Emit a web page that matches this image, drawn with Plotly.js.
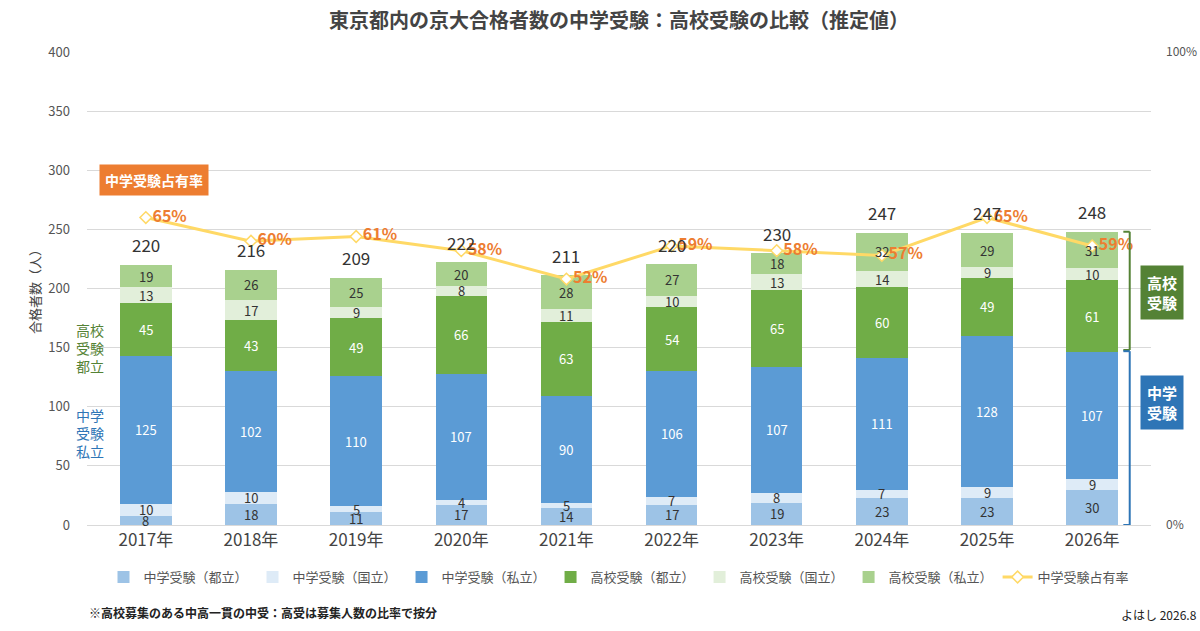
<!DOCTYPE html>
<html><head><meta charset="utf-8">
<script src="https://cdn.plot.ly/plotly-3.0.1.min.js"></script>
<style>body{margin:0;background:#fff}</style>
</head><body>
<div id="chart" style="width:1200px;height:631px"></div>
<script>
const years = ['2017年','2018年','2019年','2020年','2021年','2022年','2023年','2024年','2025年','2026年'];
const juTo = [8,18,11,17,14,17,19,23,23,30];
const juKoku = [10,10,5,4,5,7,8,7,9,9];
const juShi = [125,102,110,107,90,106,107,111,128,107];
const koTo = [45,43,49,66,63,54,65,60,49,61];
const koKoku = [13,17,9,8,11,10,13,14,9,10];
const koShi = [19,26,25,20,28,27,18,32,29,31];
const totals = [220,216,209,222,211,220,230,247,247,248];
const share = [0.65,0.60,0.61,0.58,0.52,0.59,0.58,0.57,0.65,0.59];

const font = 'Noto Sans CJK JP, Noto Sans, sans-serif';

const series = [
  ['中学受験（都立）', juTo, '#9dc3e6', '#333'],
  ['中学受験（国立）', juKoku, '#deebf7', '#333'],
  ['中学受験（私立）', juShi, '#5b9bd5', '#fff'],
  ['高校受験（都立）', koTo, '#70ad47', '#fff'],
  ['高校受験（国立）', koKoku, '#e2efda', '#333'],
  ['高校受験（私立）', koShi, '#a9d18e', '#333']
];

const traces = series.map(s => ({
  type: 'bar', name: s[0], x: years, y: s[1], width: 0.49,
  marker: {color: s[2]}, textposition: 'none', hoverinfo: 'y'
}));
traces.push({
  type: 'scatter', name: '中学受験占有率', x: years, y: share, yaxis: 'y2',
  mode: 'lines+markers+text',
  line: {color: '#ffd966', width: 3},
  marker: {symbol: 'diamond', size: 9, color: '#fff', line: {color: '#ffd966', width: 1.5}},
  text: share.map(v => '<b>' + Math.round(v * 100) + '%</b>'), textposition: 'middle right',
  textfont: {color: '#ed7d31', size: 16, family: font}
});

const annotations = [];
// segment labels at the middle of each stacked piece
const base = years.map(() => 0);
series.forEach(s => {
  s[1].forEach((v, i) => {
    annotations.push({x: years[i], y: base[i] + v / 2, text: String(v), showarrow: false,
      font: {size: 13, color: s[3]}});
    base[i] += v;
  });
});
years.forEach((y, i) => annotations.push({
  x: y, y: totals[i], text: String(totals[i]), showarrow: false,
  yshift: 20, font: {size: 17, color: '#333'}
}));
annotations.push(
  {xref: 'paper', yref: 'paper', x: 0.5, xanchor: 'center', y: 1.068, yanchor: 'middle',
   text: '<b>東京都内の京大合格者数の中学受験：高校受験の比較（推定値）</b>', showarrow: false,
   font: {size: 20, color: '#444'}},
  {xref: 'paper', yref: 'y', x: -0.012, xanchor: 'left', y: 150, yanchor: 'middle',
   text: '高校<br>受験<br>都立', showarrow: false, align: 'left', font: {size: 14, color: '#548235'}},
  {xref: 'paper', yref: 'y', x: -0.012, xanchor: 'left', y: 78, yanchor: 'middle',
   text: '中学<br>受験<br>私立', showarrow: false, align: 'left', font: {size: 14, color: '#2e75b6'}},
  {xref: 'paper', yref: 'y', x: 0.063, xanchor: 'center', y: 292, yanchor: 'middle',
   text: '<b>中学受験占有率</b>', showarrow: false, bgcolor: '#ed7d31', borderpad: 5,
   font: {size: 14, color: '#fff'}},
  {xref: 'paper', yref: 'y', x: 0.99, xanchor: 'left', y: 197, yanchor: 'middle',
   text: '<b>高校<br>受験</b>', showarrow: false, bgcolor: '#548235', borderpad: 6,
   font: {size: 15, color: '#fff'}},
  {xref: 'paper', yref: 'y', x: 0.99, xanchor: 'left', y: 104, yanchor: 'middle',
   text: '<b>中学<br>受験</b>', showarrow: false, bgcolor: '#2e75b6', borderpad: 6,
   font: {size: 15, color: '#fff'}},
  {xref: 'paper', yref: 'paper', x: 0.0, xanchor: 'left', y: -0.185, yanchor: 'middle',
   text: '<b>※高校募集のある中高一貫の中受：高受は募集人数の比率で按分</b>', showarrow: false,
   font: {size: 12, color: '#222'}},
  {xref: 'paper', yref: 'paper', x: 1.045, xanchor: 'right', y: -0.19, yanchor: 'middle',
   text: 'よはし 2026.8', showarrow: false, font: {size: 12, color: '#222'}}
);

function bracket(y0, y1, color) {
  const xa = 0.974, xb = 0.980;
  return [
    {type: 'line', xref: 'paper', yref: 'y', x0: xb, x1: xb, y0: y0, y1: y1, line: {color: color, width: 2}},
    {type: 'line', xref: 'paper', yref: 'y', x0: xa, x1: xb, y0: y0, y1: y0, line: {color: color, width: 2}},
    {type: 'line', xref: 'paper', yref: 'y', x0: xa, x1: xb, y0: y1, y1: y1, line: {color: color, width: 2}}
  ];
}

const layout = {
  width: 1200, height: 631,
  margin: {l: 87, r: 49, t: 52, b: 106},
  barmode: 'stack',
  font: {family: font, color: '#555'},
  paper_bgcolor: '#fff', plot_bgcolor: '#fff',
  showlegend: true,
  legend: {orientation: 'h', x: 0.5, xanchor: 'center', y: -0.11, yanchor: 'middle',
           font: {size: 13, color: '#555'}, traceorder: 'normal'},
  xaxis: {tickfont: {size: 17, color: '#444'}, showline: true, linecolor: '#d9d9d9', ticks: ''},
  yaxis: {range: [0, 400], dtick: 50, gridcolor: '#d9d9d9', zeroline: false,
          ticklabelstandoff: 16, tickfont: {size: 13, color: '#555'},
          title: {text: '合格者数（人）', font: {size: 13, color: '#444'}, standoff: 4}},
  yaxis2: {overlaying: 'y', side: 'right', range: [0, 1], tickvals: [0, 1], ticktext: ['0%', '100%'],
           showgrid: false, zeroline: false, tickfont: {size: 12, color: '#555'}, ticklabelstandoff: 14},
  annotations: annotations,
  shapes: [].concat(bracket(148, 248, '#548235'), bracket(0, 147, '#2e75b6'))
};

Plotly.newPlot('chart', traces, layout, {displayModeBar: false});
</script>
</body></html>
